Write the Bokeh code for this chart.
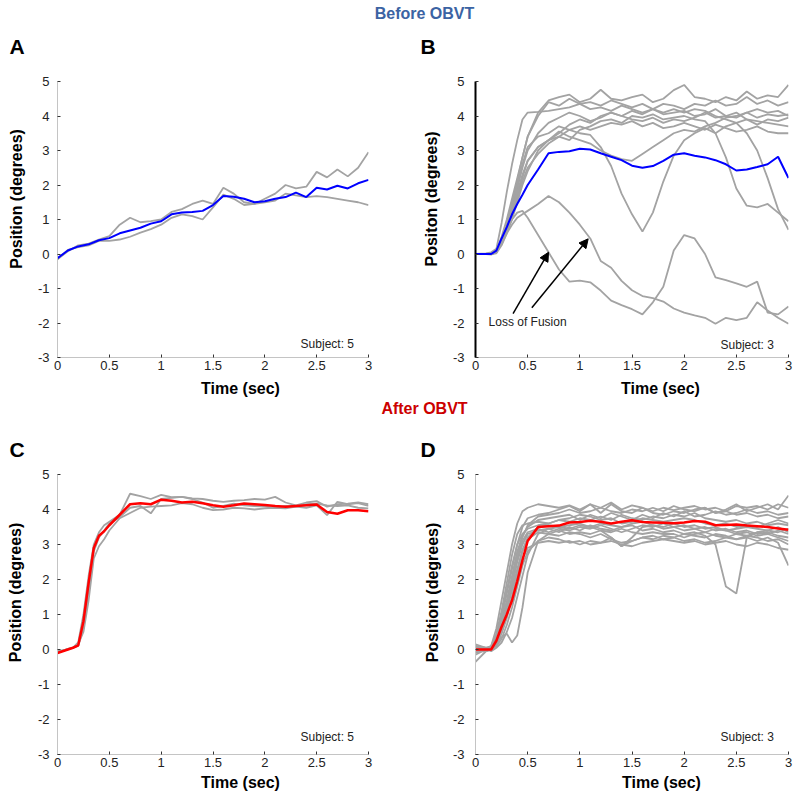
from bokeh.plotting import figure
from bokeh.layouts import column, row
from bokeh.models import Label, Arrow, NormalHead, FixedTicker, NumeralTickFormatter
from bokeh.embed import file_html
from bokeh.resources import INLINE
from bokeh.core.properties import value

FONT = "Liberation Sans"

# ---------------- data ----------------
X_TICKS = [0, 0.5, 1, 1.5, 2, 2.5, 3]
Y_TICKS = [-3, -2, -1, 0, 1, 2, 3, 4, 5]

T_A = [0.0, 0.1, 0.2, 0.3, 0.4, 0.5, 0.6, 0.7, 0.8, 0.9, 1.0, 1.1, 1.2, 1.3, 1.4, 1.5,
       1.6, 1.7, 1.8, 1.9, 2.0, 2.1, 2.2, 2.3, 2.4, 2.5, 2.6, 2.7, 2.8, 2.9, 3.0]
T_R = [0.0, 0.1, 0.15, 0.2, 0.25, 0.3, 0.35, 0.4, 0.45, 0.5,
       0.6, 0.7, 0.8, 0.9, 1.0, 1.1, 1.2, 1.3, 1.4, 1.5, 1.6, 1.7, 1.8, 1.9, 2.0,
       2.1, 2.2, 2.3, 2.4, 2.5, 2.6, 2.7, 2.8, 2.9, 3.0]

# Panel A (before, subject 5)
A_MEAN = [-0.12, 0.1, 0.22, 0.28, 0.4, 0.46, 0.6, 0.68, 0.76, 0.88, 0.95, 1.15, 1.2, 1.22, 1.25, 1.42,
          1.68, 1.66, 1.6, 1.5, 1.53, 1.6, 1.65, 1.78, 1.65, 1.92, 1.87, 1.98, 1.9, 2.05, 2.15]
A_TRIAL_1 = [-0.15, 0.08, 0.25, 0.3, 0.42, 0.52, 0.85, 1.05, 0.92, 0.95, 1.0, 1.22, 1.3, 1.45, 1.55, 1.45,
             1.92, 1.75, 1.5, 1.45, 1.6, 1.75, 2.0, 1.9, 1.95, 2.38, 2.22, 2.45, 2.25, 2.5, 2.95]
A_TRIAL_2 = [-0.15, 0.12, 0.2, 0.25, 0.38, 0.38, 0.42, 0.5, 0.62, 0.72, 0.85, 1.05, 1.15, 1.1, 1.0, 1.35,
             1.72, 1.6, 1.42, 1.45, 1.5, 1.55, 1.75, 1.7, 1.65, 1.68, 1.65, 1.6, 1.55, 1.5, 1.42]

# Panel B (before, subject 3)
B_MEAN = [0.0, 0.0, 0.0, 0.1, 0.45, 0.78, 1.15, 1.45, 1.72, 2.0,
          2.45, 2.92, 2.96, 2.98, 3.05, 3.03, 2.92, 2.82, 2.72, 2.56, 2.5, 2.55, 2.7, 2.88, 2.92,
          2.85, 2.8, 2.72, 2.6, 2.42, 2.45, 2.52, 2.6, 2.82, 2.2]
B_TRIALS = [
    [0.0, 0.02, 0.05, 0.15, 0.9, 1.8, 2.6, 3.3, 3.9, 4.1,
     4.12, 4.15, 4.2, 4.25, 4.35, 4.2, 4.25, 4.15, 4.3, 4.2, 4.1, 4.2, 4.05, 4.1, 4.15,
     4.0, 4.05, 4.2, 4.0, 3.95, 4.1, 3.95, 4.05, 4.0, 4.05],
    [0.0, 0.0, 0.02, 0.1, 0.5, 1.0, 1.6, 2.2, 2.8, 3.4,
     4.1, 4.45, 4.55, 4.62, 4.4, 4.5, 4.76, 4.5, 4.45, 4.55, 4.62, 4.4, 4.5, 4.75, 4.9,
     4.55, 4.5, 4.4, 4.55, 4.45, 4.71, 4.5, 4.6, 4.55, 4.9],
    [0.0, 0.0, 0.0, 0.05, 0.4, 0.9, 1.5, 2.1, 2.8, 3.4,
     4.0, 4.4, 4.3, 4.5, 4.35, 4.4, 4.3, 4.45, 4.35, 4.25, 4.35, 4.2, 4.35, 4.3, 4.2,
     4.35, 4.3, 4.45, 4.3, 4.35, 4.55, 4.35, 4.45, 4.3, 4.4],
    [0.0, 0.0, 0.0, 0.05, 0.35, 0.8, 1.3, 1.9, 2.5, 3.0,
     3.5, 3.8, 3.95, 4.1, 4.0, 3.85, 3.95, 4.1, 4.0, 3.9, 3.85, 3.95, 3.8, 3.9, 3.85,
     3.95, 4.1, 3.95, 4.0, 4.1, 3.9, 3.85, 3.8, 3.75, 3.7],
    [0.0, 0.0, 0.0, 0.05, 0.3, 0.7, 1.2, 1.7, 2.2, 2.7,
     3.1, 3.3, 3.4, 3.6, 3.7, 3.6, 3.7, 3.8, 3.75, 3.85, 3.7, 3.8, 3.65, 3.7, 3.8,
     3.7, 3.6, 3.75, 3.65, 3.55, 3.6, 3.7, 3.55, 3.5, 3.5],
    [0.0, 0.0, 0.0, 0.05, 0.35, 0.8, 1.4, 2.0, 2.6, 3.1,
     3.4, 3.5, 3.7, 3.6, 3.5, 3.45, 3.1, 2.55, 1.75, 1.15, 0.65, 1.2, 2.1, 2.85, 3.3,
     3.5, 3.65, 3.5, 3.7, 3.8, 3.9, 3.75, 3.9, 3.85, 3.95],
    [0.0, 0.0, 0.0, 0.05, 0.3, 0.65, 1.1, 1.6, 2.1, 2.5,
     2.9, 3.2, 3.4, 3.3, 3.6, 3.7, 3.85, 3.9, 3.8, 4.0, 3.95, 4.05, 3.9, 3.95, 4.0,
     3.9, 3.85, 3.5, 2.8, 1.9, 1.4, 1.35, 1.45, 1.2, 0.95],
    [0.0, 0.0, 0.0, 0.02, 0.25, 0.6, 1.0, 1.5, 2.0, 2.4,
     3.0, 3.3, 3.5, 3.75, 3.9, 3.8, 4.0, 4.1, 4.0, 4.15, 4.05, 4.2, 4.1, 4.2, 4.1,
     4.2, 4.15, 4.0, 3.9, 3.8, 3.5, 3.0, 2.2, 1.3, 0.7],
    [0.0, 0.0, 0.0, 0.05, 0.3, 0.75, 1.3, 1.8, 2.3, 2.7,
     3.1, 3.3, 3.55, 3.4, 3.3, 3.2, 3.0, 2.85, 2.75, 2.7, 2.9, 3.1, 3.3, 3.5, 3.6,
     3.55, 3.7, 3.8, 3.95, 4.0, 4.1, 4.2, 4.1, 4.15, 4.0],
    [0.0, 0.0, 0.0, 0.05, 0.35, 0.7, 1.0, 1.2, 1.25, 1.05,
     0.55, 0.05, -0.45, -0.8, -0.77, -0.82, -1.06, -1.35, -1.48, -1.6, -1.75, -1.4, -0.95, 0.1, 0.55,
     0.45, 0.0, -0.68, -0.76, -0.85, -0.95, -0.8, -1.7, -1.75, -1.52],
    [0.0, 0.0, -0.02, 0.05, 0.3, 0.6, 0.85, 1.05, 1.15, 1.25,
     1.45, 1.68, 1.5, 1.2, 0.85, 0.45, -0.2, -0.4, -0.78, -1.05, -1.22, -1.28, -1.38, -1.58, -1.7,
     -1.78, -1.85, -2.02, -1.85, -1.92, -1.85, -1.4, -1.64, -1.85, -2.02],
]

# Panel C (after, subject 5)
C_MEAN = [-0.1, 0.0, 0.05, 0.12, 0.8, 1.9, 2.9, 3.25, 3.38, 3.55,
          3.85, 4.15, 4.18, 4.15, 4.28, 4.25, 4.2, 4.22, 4.18, 4.12, 4.08, 4.12, 4.17, 4.15, 4.13,
          4.1, 4.08, 4.1, 4.12, 4.14, 3.93, 3.88, 3.98, 3.98, 3.95]
C_TRIALS = [
    [-0.1, 0.02, 0.05, 0.2, 1.0, 2.1, 3.0, 3.35, 3.55, 3.65,
     3.85, 4.45, 4.38, 4.3, 4.42, 4.35, 4.36, 4.32, 4.3, 4.25, 4.22, 4.25, 4.27, 4.3, 4.28,
     4.36, 4.2, 4.12, 4.2, 4.24, 4.08, 4.15, 4.17, 4.2, 4.15],
    [-0.05, 0.0, 0.05, 0.1, 0.6, 1.7, 2.8, 3.2, 3.4, 3.6,
     3.78, 4.05, 4.1, 3.89, 4.3, 4.33, 4.36, 4.3, 4.2, 4.05, 4.1, 4.17, 4.12, 4.1, 4.08,
     4.05, 4.1, 4.08, 4.05, 4.12, 3.84, 4.22, 4.15, 4.18, 4.1],
    [-0.08, 0.02, 0.05, 0.15, 0.5, 1.4, 2.6, 2.95, 3.15, 3.4,
     3.75, 3.9, 4.05, 4.08, 4.1, 4.12, 4.18, 4.15, 4.05, 3.98, 4.0, 4.05, 4.03, 4.0, 4.03,
     4.05, 4.03, 4.08, 4.15, 4.17, 4.12, 4.1, 4.12, 4.05, 4.03],
]

# Panel D (after, subject 3)
D_MEAN = [0.0, 0.0, 0.0, 0.25, 0.65, 1.0, 1.4, 1.95, 2.55, 3.1,
          3.5, 3.52, 3.54, 3.63, 3.64, 3.68, 3.65, 3.6, 3.65, 3.69, 3.64, 3.63, 3.62, 3.61, 3.63,
          3.67, 3.65, 3.55, 3.56, 3.57, 3.54, 3.52, 3.5, 3.46, 3.42]
D_TRIALS = [
    [0.05, 0.0, 0.1, 0.6, 1.4, 2.2, 3.0, 3.6, 3.95, 4.05,
     4.15, 4.1, 4.05, 4.12, 4.0, 4.15, 4.05, 4.2, 4.0, 4.12, 4.05, 3.95, 4.05, 3.98, 4.05,
     4.1, 4.0, 4.05, 3.95, 4.1, 4.05, 4.1, 4.0, 4.15, 4.05],
    [-0.05, 0.0, 0.05, 0.35, 0.9, 1.6, 2.3, 3.0, 3.5, 3.75,
     3.85, 3.9, 4.0, 4.1, 3.95, 4.15, 3.9, 4.15, 3.95, 3.9, 4.05, 3.9, 3.85, 3.95, 3.9,
     4.0, 4.05, 3.9, 4.0, 4.15, 3.95, 4.05, 4.15, 4.0, 4.4],
    [0.0, -0.05, 0.0, 0.25, 0.7, 1.2, 1.8, 2.5, 3.0, 3.3,
     3.4, 3.45, 3.35, 3.5, 3.4, 3.55, 3.45, 3.4, 3.5, 3.55, 3.4, 3.45, 3.35, 3.4, 3.3,
     3.35, 3.25, 3.0, 1.8, 1.6, 3.2, 3.35, 3.3, 3.4, 3.3],
    [0.1, -0.05, 0.05, 0.2, 0.35, 0.45, 0.2, 0.4, 1.2, 2.2,
     3.1, 3.3, 3.25, 3.35, 3.3, 3.2, 3.3, 3.15, 3.05, 3.1, 3.2, 3.25, 3.15, 3.2, 3.3,
     3.25, 3.2, 3.3, 3.25, 3.15, 3.2, 3.1, 3.2, 3.05, 2.4],
    [-0.1, 0.0, 0.0, 0.15, 0.5, 1.0, 1.5, 2.1, 2.6, 2.9,
     3.05, 3.1, 3.05, 3.1, 3.0, 3.1, 3.05, 3.2, 2.95, 3.1, 3.2, 3.15, 3.25, 3.2, 3.1,
     3.15, 3.05, 3.1, 3.2, 3.15, 3.25, 3.2, 3.1, 3.15, 3.0],
    [0.0, 0.02, 0.05, 0.4, 1.0, 1.7, 2.4, 3.0, 3.3, 3.45,
     3.55, 3.6, 3.7, 3.65, 3.75, 3.7, 3.8, 3.7, 3.85, 3.75, 3.7, 3.8, 3.75, 3.85, 3.8,
     3.9, 3.75, 3.7, 3.65, 3.7, 3.6, 3.65, 3.55, 3.6, 3.55],
    [0.05, 0.0, 0.0, 0.2, 0.6, 1.2, 1.9, 2.6, 3.1, 3.35,
     3.45, 3.35, 3.45, 3.4, 3.5, 3.45, 3.55, 3.45, 3.35, 3.45, 3.55, 3.5, 3.6, 3.5, 3.55,
     3.45, 3.5, 3.4, 3.45, 3.35, 3.4, 3.3, 3.35, 3.25, 3.2],
    [-0.05, -0.05, 0.0, 0.3, 0.8, 1.4, 2.1, 2.8, 3.25, 3.5,
     3.7, 3.75, 3.8, 3.85, 3.7, 3.85, 3.75, 3.9, 3.8, 3.7, 3.85, 3.75, 3.9, 3.8, 3.95,
     3.8, 3.85, 3.95, 3.85, 3.9, 4.0, 3.9, 3.95, 3.85, 3.9],
    [0.0, 0.0, 0.02, 0.2, 0.55, 1.1, 1.7, 2.3, 2.85, 3.2,
     3.5, 3.55, 3.5, 3.55, 3.6, 3.5, 3.4, 3.2, 2.95, 3.2, 3.5, 3.55, 3.45, 3.5, 3.4,
     3.45, 3.35, 3.45, 3.4, 3.3, 3.35, 3.25, 3.3, 3.2, 3.1],
    [0.1, 0.05, 0.05, 0.25, 0.75, 1.3, 2.0, 2.7, 3.2, 3.55,
     3.8, 3.85, 3.9, 4.0, 3.9, 3.95, 4.05, 3.95, 3.9, 4.0, 3.95, 4.05, 3.95, 4.1, 4.0,
     3.95, 4.05, 3.9, 3.95, 3.85, 3.9, 3.8, 3.85, 3.75, 3.8],
    [-0.15, 0.0, 0.0, 0.15, 0.45, 0.9, 1.5, 2.2, 2.8, 3.15,
     3.35, 3.3, 3.4, 3.3, 3.35, 3.3, 3.4, 3.35, 3.45, 3.35, 3.3, 3.35, 3.3, 3.3, 3.2,
     3.3, 3.35, 3.25, 3.2, 3.3, 3.25, 3.35, 3.4, 3.35, 3.45],
    [-0.35, -0.05, 0.0, 0.1, 0.3, 0.7, 1.2, 1.8, 2.4, 2.8,
     3.1, 3.2, 3.15, 3.05, 3.1, 3.0, 3.05, 3.1, 3.0, 2.95, 3.05, 3.1, 3.15, 3.1, 3.05,
     3.1, 3.0, 3.05, 3.1, 3.0, 2.95, 3.05, 3.0, 2.9, 2.85],
    [0.15, 0.05, 0.1, 0.45, 1.1, 1.9, 2.7, 3.3, 3.55, 3.6,
     3.65, 3.6, 3.7, 3.75, 3.85, 3.8, 3.7, 3.75, 3.6, 3.65, 3.75, 3.7, 3.65, 3.7, 3.75,
     3.7, 3.6, 3.55, 3.6, 3.5, 3.55, 3.5, 3.6, 3.7, 3.6],
    [0.0, 0.0, -0.05, 0.05, 0.2, 0.5, 0.9, 1.5, 2.1, 2.7,
     3.3, 3.45, 3.5, 3.45, 3.55, 3.5, 3.6, 3.55, 3.5, 3.6, 3.65, 3.55, 3.5, 3.6, 3.5,
     3.55, 3.45, 3.5, 3.4, 3.45, 3.5, 3.45, 3.4, 3.5, 3.35],
]

# Annotation in panel B: arrows (start t, start pos, end t, end pos)
ARROWS_B = [(0.36, -1.73, 0.70, 0.05), (0.54, -1.56, 1.08, 0.44)]

GRAY = "#a3a3a3"
AXIS_GRAY = "#c4c4c4"


def panel(width, height, bl, br, bt, bb, ystand, yaxis_color=AXIS_GRAY, yaxis_width=1):
    p = figure(width=width, height=height, x_range=(0, 3), y_range=(-3, 5),
               output_backend="svg", toolbar_location=None,
               min_border_left=bl, min_border_right=br, min_border_top=bt, min_border_bottom=bb)
    p.outline_line_color = None
    p.grid.visible = False
    p.background_fill_color = "white"
    p.border_fill_color = "white"
    p.xaxis.ticker = FixedTicker(ticks=X_TICKS)
    p.yaxis.ticker = FixedTicker(ticks=Y_TICKS)
    p.xaxis.formatter = NumeralTickFormatter(format="0.[0]")
    p.yaxis.formatter = NumeralTickFormatter(format="0")
    for ax in (p.xaxis[0], p.yaxis[0]):
        ax.major_tick_in = 3
        ax.major_tick_out = 0
        ax.major_tick_line_color = "#333333"
        ax.minor_tick_line_color = None
        ax.major_label_text_font = FONT
        ax.major_label_text_font_size = "13px"
        ax.major_label_text_color = "#222222"
        ax.axis_line_color = AXIS_GRAY
    p.xaxis.major_label_standoff = 3
    p.yaxis.major_label_standoff = ystand
    p.yaxis.axis_line_color = yaxis_color
    p.yaxis.axis_line_width = yaxis_width
    return p


def lab(p, x, y, text, size, bold=True, align="left", baseline="alphabetic", color="black"):
    p.add_layout(Label(x=x, y=y, text=text, text_font=FONT, text_font_size=size,
                       text_font_style="bold" if bold else "normal",
                       text_align=align, text_baseline=baseline, text_color=color))


def text_strip(width, height, items):
    s = figure(width=width, height=height, x_range=(0, width), y_range=(0, height),
               x_axis_location=None, y_axis_location=None, min_border=0,
               output_backend="svg", toolbar_location=None)
    s.outline_line_color = None
    s.grid.visible = False
    for (x, y, txt, size, color, angle, align, base) in items:
        s.text(x=[x], y=[y], text=[txt], text_font=value(FONT), text_font_size=size,
               text_font_style="bold", text_color=color, angle=angle,
               text_align=align, text_baseline=base)
    return s


ROT = 1.5708

# Panel A
pa = panel(366, 315, 21, 32, 19, 20, 8)
for tr in (A_TRIAL_1, A_TRIAL_2):
    pa.line(T_A, tr, line_color=GRAY, line_width=1.8)
pa.line(T_A, A_MEAN, line_color="#0000ff", line_width=2)
lab(pa, 2.86, -2.62, "Subject: 5", "12px", bold=False, align="right", baseline="middle", color="#222222")

# Panel B
pb = panel(354, 315, 29, 12, 19, 20, 11, yaxis_color="black", yaxis_width=2)
for tr in B_TRIALS:
    pb.line(T_R, tr, line_color=GRAY, line_width=1.8)
pb.line(T_R, B_MEAN, line_color="#0000ff", line_width=2)
for (x0, y0, x1, y1) in ARROWS_B:
    pb.add_layout(Arrow(end=NormalHead(size=9, fill_color="black", line_color="black"),
                        x_start=x0, y_start=y0, x_end=x1, y_end=y1,
                        line_color="black", line_width=1.5))
lab(pb, 0.125, -1.96, "Loss of Fusion", "12px", bold=False, baseline="middle", color="#222222")
lab(pb, 2.86, -2.65, "Subject: 3", "12px", bold=False, align="right", baseline="middle", color="#222222")

# Panel C
pc = panel(366, 311, 21, 32, 12, 19, 8)
for tr in C_TRIALS:
    pc.line(T_R, tr, line_color=GRAY, line_width=1.8)
pc.line(T_R, C_MEAN, line_color="#ff0000", line_width=2.5)
lab(pc, 2.86, -2.51, "Subject: 5", "12px", bold=False, align="right", baseline="middle", color="#222222")

# Panel D
pd_ = panel(354, 311, 29, 12, 12, 19, 11)
for tr in D_TRIALS:
    pd_.line(T_R, tr, line_color=GRAY, line_width=1.8)
pd_.line(T_R, D_MEAN, line_color="#ff0000", line_width=2.5)
lab(pd_, 2.86, -2.51, "Subject: 3", "12px", bold=False, align="right", baseline="middle", color="#222222")

BLUE_T = "#3b63a3"
RED_T = "#cc0000"

top = text_strip(800, 62, [
    (424, 49, "Before OBVT", "16px", BLUE_T, 0, "center", "alphabetic"),
    (9, 16, "A", "21px", "black", 0, "left", "alphabetic"),
    (420, 16, "B", "21px", "black", 0, "left", "alphabetic"),
])
mid = text_strip(800, 85, [
    (240, 74, "Time (sec)", "16px", "black", 0, "center", "alphabetic"),
    (660, 74, "Time (sec)", "16px", "black", 0, "center", "alphabetic"),
    (424, 54, "After OBVT", "16px", RED_T, 0, "center", "alphabetic"),
    (9, 13, "C", "21px", "black", 0, "left", "alphabetic"),
    (420, 13, "D", "21px", "black", 0, "left", "alphabetic"),
])
bot = text_strip(800, 25, [
    (240, 16, "Time (sec)", "16px", "black", 0, "center", "alphabetic"),
    (661, 16, "Time (sec)", "16px", "black", 0, "center", "alphabetic"),
])

ya = text_strip(34, 315, [(16, 181, "Position (degrees)", "16px", "black", ROT, "center", "middle")])
yb = text_strip(46, 315, [(31, 181, "Positon (degrees)", "16px", "black", ROT, "center", "middle")])
yc = text_strip(34, 311, [(15, 180, "Position (degrees)", "16px", "black", ROT, "center", "middle")])
yd = text_strip(46, 311, [(32, 180, "Position (degrees)", "16px", "black", ROT, "center", "middle")])

layout = column(top, row(ya, pa, yb, pb), mid, row(yc, pc, yd, pd_), bot)
open("out.html", "w").write(file_html(layout, INLINE))
